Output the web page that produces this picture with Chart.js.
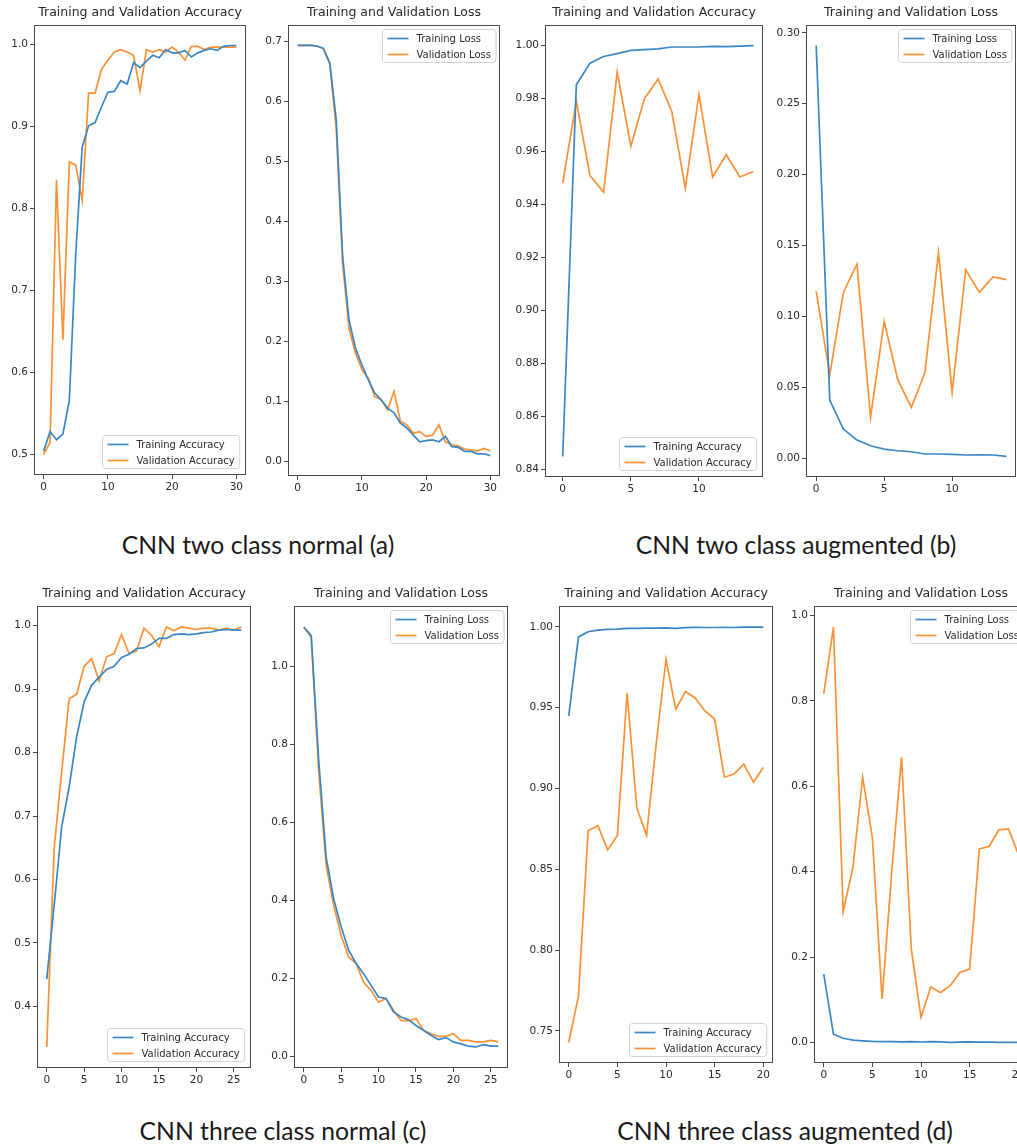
<!DOCTYPE html>
<html>
<head>
<meta charset="utf-8">
<script src="https://cdn.jsdelivr.net/npm/chart.js@4.4.1/dist/chart.umd.min.js"></script>
<style>
html,body{margin:0;padding:0;background:#fff;width:1017px;height:1147px;overflow:hidden;position:relative;}
canvas{position:absolute;}
.cap{position:absolute;width:500px;text-align:center;font-family:Lato,"Open Sans",sans-serif;font-size:24.7px;line-height:28px;color:#1a1a1a;white-space:nowrap;}
</style>
</head>
<body>
<script>
// ---------------- categories (epochs) ----------------
const epochs31 = Array.from({length: 31}, (_, i) => i);
const epochs15 = Array.from({length: 15}, (_, i) => i);
const epochs27 = Array.from({length: 27}, (_, i) => i);
const epochs21 = Array.from({length: 21}, (_, i) => i);

// ---------------- (a) CNN two class normal ----------------
const aTrainAcc = [0.504,0.528,0.518,0.525,0.566,0.745,0.875,0.901,0.905,0.924,0.942,0.943,0.956,0.952,0.978,0.972,0.980,0.987,0.984,0.994,0.990,0.990,0.993,0.985,0.990,0.993,0.995,0.993,0.998,0.999,0.999];
const aValAcc   = [0.500,0.515,0.835,0.640,0.857,0.853,0.810,0.941,0.941,0.970,0.981,0.991,0.994,0.991,0.987,0.944,0.994,0.991,0.994,0.991,0.997,0.991,0.981,0.998,0.998,0.994,0.997,0.997,0.997,0.997,0.997];
const aTrainLoss = [0.693,0.693,0.693,0.692,0.688,0.664,0.570,0.342,0.236,0.189,0.161,0.136,0.114,0.103,0.089,0.081,0.064,0.056,0.044,0.033,0.035,0.036,0.033,0.042,0.025,0.024,0.017,0.017,0.013,0.013,0.010];
const aValLoss   = [0.693,0.693,0.693,0.692,0.688,0.662,0.555,0.330,0.222,0.181,0.153,0.139,0.108,0.103,0.086,0.117,0.067,0.061,0.047,0.050,0.042,0.044,0.061,0.033,0.028,0.026,0.021,0.019,0.018,0.022,0.018];

// ---------------- (b) CNN two class augmented ----------------
const bTrainAcc = [0.8448,0.9851,0.9933,0.9958,0.9969,0.9981,0.9984,0.9987,0.9994,0.9994,0.9994,0.9996,0.9995,0.9997,0.9999];
const bValAcc   = [0.9480,0.9789,0.9508,0.9446,0.9899,0.9619,0.9799,0.9873,0.9751,0.9461,0.9814,0.9503,0.9587,0.9503,0.9524];
const bTrainLoss = [0.291,0.041,0.0207,0.0129,0.0089,0.0066,0.0054,0.0047,0.0031,0.0031,0.0028,0.0024,0.0026,0.0024,0.0014];
const bValLoss   = [0.1177,0.059,0.117,0.137,0.0289,0.0966,0.0555,0.036,0.0606,0.1452,0.0465,0.133,0.117,0.128,0.126];

// ---------------- (c) CNN three class normal ----------------
const cTrainAcc = [0.443,0.560,0.683,0.746,0.825,0.880,0.906,0.919,0.931,0.936,0.950,0.955,0.964,0.965,0.971,0.980,0.980,0.986,0.987,0.986,0.987,0.989,0.990,0.993,0.994,0.993,0.993];
const cValAcc   = [0.336,0.650,0.770,0.885,0.892,0.936,0.948,0.913,0.951,0.956,0.986,0.956,0.960,0.996,0.985,0.967,0.998,0.992,0.998,0.996,0.994,0.996,0.996,0.993,0.996,0.993,0.998];
const cTrainLoss = [1.101,1.079,0.760,0.510,0.404,0.332,0.272,0.238,0.212,0.182,0.152,0.148,0.114,0.101,0.094,0.079,0.067,0.054,0.043,0.048,0.037,0.032,0.026,0.024,0.030,0.026,0.026];
const cValLoss   = [1.101,1.075,0.730,0.490,0.387,0.310,0.255,0.238,0.190,0.169,0.139,0.148,0.118,0.092,0.091,0.097,0.067,0.058,0.051,0.051,0.058,0.041,0.041,0.037,0.037,0.041,0.037];

// ---------------- (d) CNN three class augmented ----------------
const dTrainAcc = [0.9449,0.9938,0.9970,0.9980,0.9984,0.9986,0.9990,0.9990,0.9992,0.9992,0.9994,0.9990,0.9995,0.9997,0.9996,0.9996,0.9997,0.9996,0.9998,0.9998,0.9998];
const dValAcc   = [0.743,0.7716,0.874,0.877,0.862,0.871,0.959,0.888,0.871,0.928,0.980,0.949,0.960,0.956,0.948,0.943,0.907,0.909,0.915,0.904,0.913];
const dTrainLoss = [0.160,0.0195,0.010,0.0055,0.004,0.0025,0.002,0.002,0.0015,0.002,0.0012,0.002,0.0015,0.0005,0.0008,0.0015,0.001,0.001,0.0005,0.0005,0.0005];
const dValLoss   = [0.816,0.973,0.306,0.410,0.621,0.480,0.102,0.402,0.668,0.219,0.059,0.130,0.117,0.133,0.164,0.172,0.453,0.459,0.498,0.500,0.441];

// ---------------- tick labels ----------------
const aX = ['0','10','20','30'];
const aAccY = ['0.5','0.6','0.7','0.8','0.9','1.0'];
const aLossY = ['0.0','0.1','0.2','0.3','0.4','0.5','0.6','0.7'];
const bX = ['0','5','10'];
const bAccY = ['0.84','0.86','0.88','0.90','0.92','0.94','0.96','0.98','1.00'];
const bLossY = ['0.00','0.05','0.10','0.15','0.20','0.25','0.30'];
const cX = ['0','5','10','15','20','25'];
const cAccY = ['0.4','0.5','0.6','0.7','0.8','0.9','1.0'];
const cLossY = ['0.0','0.2','0.4','0.6','0.8','1.0'];
const dX = ['0','5','10','15','20'];
const dAccY = ['0.75','0.80','0.85','0.90','0.95','1.00'];
const dLossY = ['0.0','0.2','0.4','0.6','0.8','1.0'];

// ---------------- text ----------------
const accTitle = 'Training and Validation Accuracy';
const lossTitle = 'Training and Validation Loss';
const accLabels = ['Training Accuracy', 'Validation Accuracy'];
const lossLabels = ['Training Loss', 'Validation Loss'];
const captions = ['CNN two class normal (a)', 'CNN two class augmented (b)', 'CNN three class normal (c)', 'CNN three class augmented (d)'];

// ---------------- styling / layout ----------------
const BLUE = '#3a87c4', ORANGE = '#fd9135';
const FRAME = '#4a4a4a', TXT = '#2a2a2a';

const frameAndLegend = {
  id: 'mplDecor',
  afterDraw(chart, args, opts) {
    const {ctx, chartArea: a} = chart;
    ctx.save();
    ctx.strokeStyle = FRAME; ctx.lineWidth = 1;
    const L = Math.round(a.left) + 0.5, T = Math.round(a.top) + 0.5;
    const R = Math.round(a.right) - 0.5, B = Math.round(a.bottom) - 0.5;
    ctx.strokeRect(L, T, R - L, B - T);
    const ds = chart.data.datasets;
    ctx.font = '10px "DejaVu Sans"';
    const tw = Math.max(...ds.map(d => ctx.measureText(d.label).width));
    const pad = 5, hl = 21, htp = 8, h = 33;
    const w = pad + hl + htp + tw + pad;
    const x0 = Math.round(a.right - opts.offX - w) + 0.5;
    const y0 = Math.round(opts.loc === 'upper' ? a.top + opts.offY : a.bottom - opts.offY - h) + 0.5;
    ctx.beginPath();
    ctx.roundRect(x0, y0, w, h, 3);
    ctx.fillStyle = 'rgba(255,255,255,0.85)';
    ctx.fill();
    ctx.strokeStyle = '#d2d2d2';
    ctx.stroke();
    ds.forEach((d, i) => {
      const cy = y0 + 9 + i * 16;
      ctx.beginPath();
      ctx.strokeStyle = d.borderColor; ctx.lineWidth = d.borderWidth;
      ctx.moveTo(x0 + pad, cy); ctx.lineTo(x0 + pad + hl, cy);
      ctx.stroke();
      ctx.fillStyle = TXT; ctx.textBaseline = 'middle'; ctx.textAlign = 'left';
      ctx.fillText(d.label, x0 + pad + hl + htp, cy + 0.5);
    });
    ctx.restore();
  }
};

const panels = [
  {box:[34,25,246,475], title:accTitle, labels:accLabels, epochs:epochs31, series:[aTrainAcc,aValAcc], x:[-1.5,31.5], y:[0.475,1.024], xt:aX, yt:aAccY, loc:'lower'},
  {box:[288,25,500,476], title:lossTitle, labels:lossLabels, epochs:epochs31, series:[aTrainLoss,aValLoss], x:[-1.5,31.5], y:[-0.024,0.727], xt:aX, yt:aLossY, loc:'upper'},
  {box:[545,25,763,477], title:accTitle, labels:accLabels, epochs:epochs15, series:[bTrainAcc,bValAcc], x:[-1.3,14.7], y:[0.837,1.0077], xt:bX, yt:bAccY, loc:'lower'},
  {box:[806,25,1016,477], title:lossTitle, labels:lossLabels, epochs:epochs15, series:[bTrainLoss,bValLoss], x:[-0.75,14.7], y:[-0.0131,0.3055], xt:bX, yt:bLossY, loc:'upper'},
  {box:[37,606,251,1068], title:accTitle, labels:accLabels, epochs:epochs27, series:[cTrainAcc,cValAcc], x:[-1.3,27.3], y:[0.303,1.031], xt:cX, yt:cAccY, loc:'lower'},
  {box:[294,606,508,1068], title:lossTitle, labels:lossLabels, epochs:epochs27, series:[cTrainLoss,cValLoss], x:[-1.3,27.3], y:[-0.030,1.155], xt:cX, yt:cLossY, loc:'upper'},
  {box:[559,606,773,1063], title:accTitle, labels:accLabels, epochs:epochs21, series:[dTrainAcc,dValAcc], x:[-1,21], y:[0.7302,1.0129], xt:dX, yt:dAccY, loc:'lower'},
  {box:[814,606,1028,1063], title:lossTitle, labels:lossLabels, epochs:epochs21, series:[dTrainLoss,dValLoss], x:[-1,21], y:[-0.048,1.022], xt:dX, yt:dLossY, loc:'upper'}
];

const padL = 32, padR = 10, padT = 25, padB = 24;

panels.forEach(p => {
  const [l, t, r, b] = p.box;
  const W = padL + (r - l) + padR, H = padT + (b - t) + padB;
  const cv = document.createElement('canvas');
  cv.width = W; cv.height = H;
  cv.style.left = (l - padL) + 'px'; cv.style.top = (t - padT) + 'px';
  cv.style.width = W + 'px'; cv.style.height = H + 'px';
  document.body.appendChild(cv);
  const tickFont = {family: 'DejaVu Sans', size: 10.5, lineHeight: 1.2};
  const gridOpts = {display: true, drawOnChartArea: false, drawTicks: true, tickLength: 4, color: FRAME, lineWidth: 1};
  new Chart(cv, {
    type: 'line',
    data: {
      labels: p.epochs,
      datasets: p.series.map((vals, i) => ({
        label: p.labels[i], data: vals,
        borderColor: i === 0 ? BLUE : ORANGE, backgroundColor: i === 0 ? BLUE : ORANGE,
        borderWidth: 1.7, pointRadius: 0, tension: 0, fill: false
      }))
    },
    options: {
      responsive: false, animation: false, devicePixelRatio: 1,
      layout: {padding: {left: 0, right: padR, top: 0, bottom: 0}},
      plugins: {
        legend: {display: false}, tooltip: {enabled: false},
        title: {display: true, text: p.title, fullSize: false, color: TXT,
                font: {family: 'DejaVu Sans', size: 12.5, weight: 'normal', lineHeight: 1.2},
                padding: {top: 5.5, bottom: 4.5}},
        mplDecor: {loc: p.loc, offX: p.loc === 'upper' ? 5 : 7, offY: p.loc === 'upper' ? 4 : 7}
      },
      scales: {
        x: {type: 'linear', min: p.x[0], max: p.x[1],
            afterBuildTicks: s => { s.ticks = p.xt.map(v => ({value: parseFloat(v)})); },
            afterFit: s => { s.height = padB; },
            grid: gridOpts, border: {display: false},
            ticks: {font: tickFont, color: TXT, padding: 2, autoSkip: false, maxRotation: 0,
                    callback: (v, i) => p.xt[i]}},
        y: {type: 'linear', min: p.y[0], max: p.y[1],
            afterBuildTicks: s => { s.ticks = p.yt.map(v => ({value: parseFloat(v)})); },
            afterFit: s => { s.width = padL; },
            grid: gridOpts, border: {display: false},
            ticks: {font: tickFont, color: TXT, padding: 2, autoSkip: false,
                    callback: (v, i) => p.yt[i]}}
      }
    },
    plugins: [frameAndLegend]
  });
});

// captions
const capPos = [[258, 545], [796, 545], [283, 1131], [785, 1131]];
captions.forEach((c, i) => {
  const d = document.createElement('div');
  d.className = 'cap';
  d.textContent = c;
  d.style.left = (capPos[i][0] - 250) + 'px';
  d.style.top = (capPos[i][1] - 14) + 'px';
  document.body.appendChild(d);
});
</script>
</body>
</html>
